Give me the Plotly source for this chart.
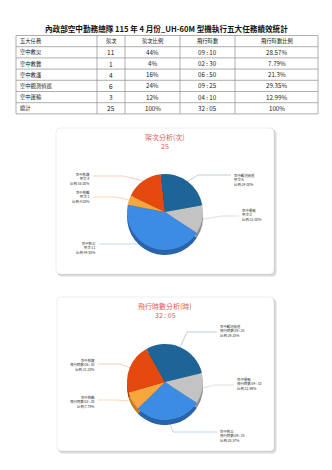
import math
import plotly.graph_objects as go

W, H = 332, 470

# ---------------- data ----------------
title_text = "內政部空中勤務總隊 115 年 4 月份_UH-60M 型機執行五大任務績效統計"
columns = ["五大任務", "架次", "架次比例", "飛行時數", "飛行時數比例"]
missions = ["空中救災", "空中救難", "空中救護", "空中觀測偵巡", "空中運輸"]
sorties = [11, 1, 4, 6, 3]
sortie_pct = ["44%", "4%", "16%", "24%", "12%"]
flight_hours = ["09 : 10", "02 : 30", "06 : 50", "09 : 25", "04 : 10"]
hour_pct = ["28.57%", "7.79%", "21.3%", "29.35%", "12.99%"]
total_label = "總計"
total_sorties = 25
total_sortie_pct = "100%"
total_hours = "32 : 05"
total_hour_pct = "100%"
chart1_title = "架次分析(次)"
chart2_title = "飛行時數分析(時)"

# ---------------- style ----------------
colors = ["#3d8ce4", "#f8a73c", "#e4490f", "#1e6496", "#c3c3c3"]
dark = ["#2a64a8", "#c07a20", "#a8330a", "#124468", "#8e8e8e"]
line_col = ["#a9c6e8", "#f3c9a0", "#efb8a0", "#9fb8c8", "#cfcfcf"]
FONT = "Noto Sans CJK TC"
ROT = 123

minutes = [int(h.split(":")[0]) * 60 + int(h.split(":")[1]) for h in flight_hours]


def px(x):
    return x / W


def py(y):
    return 1 - y / H


fig = go.Figure()
annotations = [dict(text=f"<b>{title_text}</b>", x=166, y=28, xref="x", yref="y", showarrow=False,
                    font=dict(family=FONT, size=7.6, color="#111"))]

# ---------------- table (grid + cell texts) ----------------
tbl_x0, tbl_y0, row_h = 16, 35.5, 11.2
col_w = [81, 28, 55, 55, 83]
col_edges = [tbl_x0]
for w in col_w:
    col_edges.append(col_edges[-1] + w)
rows = [columns]
for i in range(len(missions)):
    rows.append([missions[i], str(sorties[i]), sortie_pct[i], flight_hours[i], hour_pct[i]])
rows.append([total_label, str(total_sorties), total_sortie_pct, total_hours, total_hour_pct])
n_rows = len(rows)
tbl_y1 = tbl_y0 + n_rows * row_h

gx, gy = [], []
for k in range(n_rows + 1):
    yy = tbl_y0 + k * row_h
    gx += [col_edges[0], col_edges[-1], None]
    gy += [yy, yy, None]
for xx in col_edges:
    gx += [xx, xx, None]
    gy += [tbl_y0, tbl_y1, None]
fig.add_trace(go.Scatter(x=gx, y=gy, mode="lines", line=dict(color="#8c8c8c", width=0.7),
                         hoverinfo="skip", showlegend=False))

for ri, row in enumerate(rows):
    yc = tbl_y0 + (ri + 0.5) * row_h
    for ci, val in enumerate(row):
        if ci == 0:
            x, anchor = col_edges[0] + 1.5, "left"
        else:
            x, anchor = (col_edges[ci] + col_edges[ci + 1]) / 2, "center"
        size = 5.3 if (ri == 0 or ci == 0) else (6.6 if ci == 1 else 6.2)
        annotations.append(dict(text=val, x=x, y=yc, xref="x", yref="y", showarrow=False,
                                xanchor=anchor, yanchor="middle",
                                font=dict(family=FONT, size=size, color="#222")))

# ---------------- cards ----------------
cards = [(56, 128, 274, 274), (57, 297, 274, 451)]
shapes = []


def rrect(x0, y0, x1, y1, r):
    return (f"M{x0+r},{y0} L{x1-r},{y0} Q{x1},{y0} {x1},{y0+r} L{x1},{y1-r} Q{x1},{y1} {x1-r},{y1} "
            f"L{x0+r},{y1} Q{x0},{y1} {x0},{y1-r} L{x0},{y0+r} Q{x0},{y0} {x0+r},{y0} Z")


for (x0, y0, x1, y1) in cards:
    for k, c in enumerate(["#ececec", "#dcdcdc", "#c9c9c9"]):
        o = 3 - k
        shapes.append(dict(type="path", path=rrect(x0 + o - 1, y0 + o - 1, x1 + o, y1 + o, 5),
                           xref="x", yref="y", fillcolor=c, line=dict(width=0), layer="below"))
    shapes.append(dict(type="path", path=rrect(x0, y0, x1, y1, 4), xref="x", yref="y",
                       fillcolor="white", line=dict(color="#e4e4e4", width=0.6), layer="below"))

# ---------------- pies ----------------
pies = [
    dict(values=sorties, cx=165, cy=212, r=38, top=(chart1_title, str(total_sorties)), ty=(137, 145.5),
         labels=[f"{m}<br>架次:{s}<br>比例:{s / sum(sorties) * 100:.2f}%" for m, s in zip(missions, sorties)],
         lab=[(98, 247.5, 244, "right"), (92, 197, 197, "right"), (92, 179, 176, "right"),
              (232, 180, 175, "left"), (240, 215, 216, "left")],
         elbow=[40, 22, 30, 33, 18]),
    dict(values=minutes, cx=165, cy=382, r=38, top=(chart2_title, total_hours), ty=(306, 314.5),
         labels=[f"{m}<br>飛行時數:{h}<br>比例:{v / sum(minutes) * 100:.2f}%" for m, h, v in
                 zip(missions, flight_hours, minutes)],
         lab=[(218, 436, 432, "left"), (97, 402, 400, "right"), (97, 365, 364, "right"),
              (218, 331, 332, "left"), (235, 384, 385, "left")],
         elbow=[44, 18, 22, 30, 20]),
]

for p in pies:
    cx, cy, r = p["cx"], p["cy"], p["r"]
    for dy, cols in [(5, dark), (0, colors)]:
        fig.add_trace(go.Pie(
            values=p["values"], labels=missions, sort=False, direction="clockwise", rotation=ROT,
            marker=dict(colors=cols, line=dict(width=0)), textinfo="none", hoverinfo="skip",
            showlegend=False,
            domain=dict(x=[px(cx - r), px(cx + r)], y=[py(cy + r + dy), py(cy - r + dy)])))
    for t, yy in zip(p["top"], p["ty"]):
        annotations.append(dict(text=t, x=cx, y=yy, xref="x", yref="y", showarrow=False,
                                yanchor="middle", font=dict(family=FONT, size=7, color="#e05a5a")))
    total = sum(p["values"])
    cum = 0
    for i, v in enumerate(p["values"]):
        mid = math.radians(ROT + (cum + v / 2) / total * 360)
        cum += v
        ex, ey = cx + r * math.sin(mid), cy - r * math.cos(mid)
        tx, tcy, ay, side = p["lab"][i]
        ax = tx - 1 if side == "left" else tx + 1
        elx = ax - p["elbow"][i] if side == "left" else ax + p["elbow"][i]
        fig.add_trace(go.Scatter(x=[ex, elx, ax], y=[ey, ay, ay], mode="lines",
                                 line=dict(color=line_col[i], width=0.7), hoverinfo="skip",
                                 showlegend=False))
        annotations.append(dict(text=p["labels"][i], x=tx, y=tcy, xref="x", yref="y", showarrow=False,
                                xanchor=side, yanchor="middle", align=side,
                                font=dict(family=FONT, size=3.4, color="#333")))

fig.update_layout(
    width=W, height=H, margin=dict(l=0, r=0, t=0, b=0),
    paper_bgcolor="white", plot_bgcolor="rgba(0,0,0,0)",
    xaxis=dict(range=[0, W], visible=False, domain=[0, 1], fixedrange=True),
    yaxis=dict(range=[H, 0], visible=False, domain=[0, 1], fixedrange=True),
    shapes=shapes, annotations=annotations, showlegend=False,
)

fig.write_html("out.html")
